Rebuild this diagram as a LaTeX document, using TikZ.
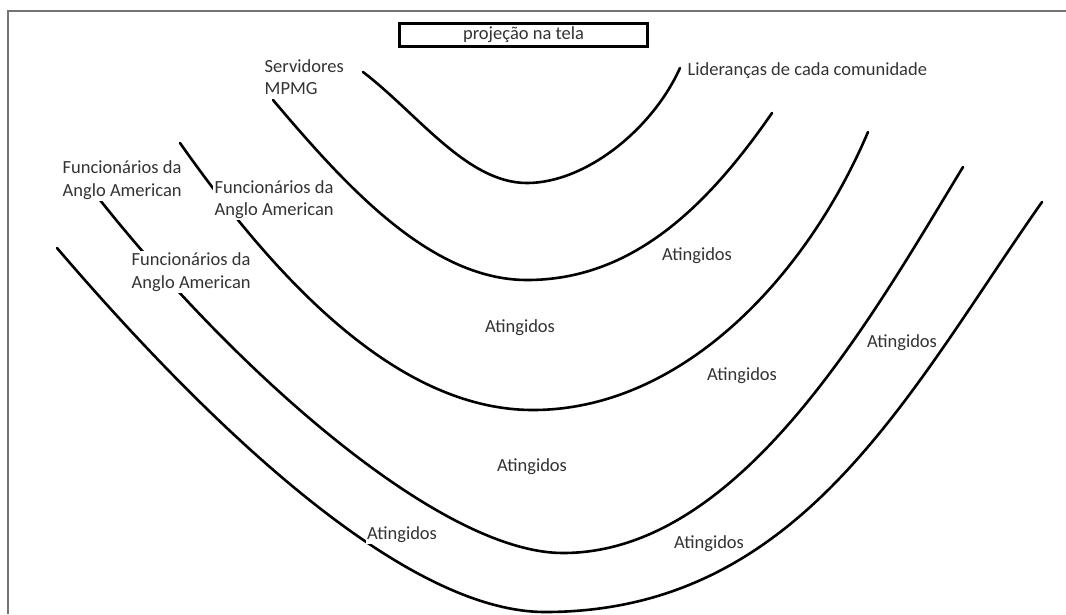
\documentclass[tikz,border=0pt]{standalone}
\usepackage{fontspec}
\setmainfont{Carlito}
\begin{document}
\begin{tikzpicture}[x=1pt,y=-1pt,
  curve/.style={line width=2.6pt, line cap=round, black},
  lbl/.style={fill=white, inner sep=1.5pt, text=black!80, font=\fontsize{18.5}{22.5}\selectfont, align=left},
  framecol/.style={draw=black!55, line width=1.6pt}]
\useasboundingbox (0,0) rectangle (1066,614);
\fill[white] (0,0) rectangle (1066,614);
% frame
\draw[framecol] (8,614) -- (8,11) -- (1066,11);
% curves (left end, bottom, right end)
\draw[curve] (363,72) .. controls (418,114) and (467,183) .. (527,183)
                      .. controls (585,183) and (652,130) .. (680,68);
\draw[curve] (273,100) .. controls (345,185) and (430,280) .. (527,280)
                       .. controls (630,280) and (705,210) .. (772,113);
\draw[curve] (180,143) .. controls (280,285) and (400,410) .. (533,410)
                       .. controls (680,410) and (805,280) .. (868,132);
\draw[curve] (100,200) .. controls (235,370) and (440,553) .. (563,553)
                       .. controls (740,553) and (870,320) .. (963,167);
\draw[curve] (57,248) .. controls (200,415) and (400,612) .. (545,612)
                      .. controls (802,612) and (909,391) .. (1042,202);
% title box
\node[draw=black, line width=3pt, minimum width=248pt, minimum height=23pt, inner sep=0pt, text=black!80, font=\fontsize{18.5}{22.5}\selectfont] (tela) at (523.5,35) {projeção na tela};
% labels
\node[lbl, anchor=base west] (serv) at (263,94.5) {Servidores\\MPMG};
\node[lbl, anchor=base west] (lid) at (686,75) {Lideranças de cada comunidade};
\node[lbl, anchor=base west] (f1) at (61,196) {Funcionários da\\Anglo American};
\node[lbl, anchor=base west] (f2) at (213,215.5) {Funcionários da\\Anglo American};
\node[lbl, anchor=base west] (f3) at (130,288) {Funcionários da\\Anglo American};
\node[lbl, anchor=base] (a1) at (697,260) {Atingidos};
\node[lbl, anchor=base] (a2) at (520,332) {Atingidos};
\node[lbl, anchor=base] (a3) at (902,347) {Atingidos};
\node[lbl, anchor=base] (a4) at (742,380) {Atingidos};
\node[lbl, anchor=base] (a5) at (532,471) {Atingidos};
\node[lbl, anchor=base] (a6) at (402,539) {Atingidos};
\node[lbl, anchor=base] (a7) at (709,548) {Atingidos};
\end{tikzpicture}
\end{document}
